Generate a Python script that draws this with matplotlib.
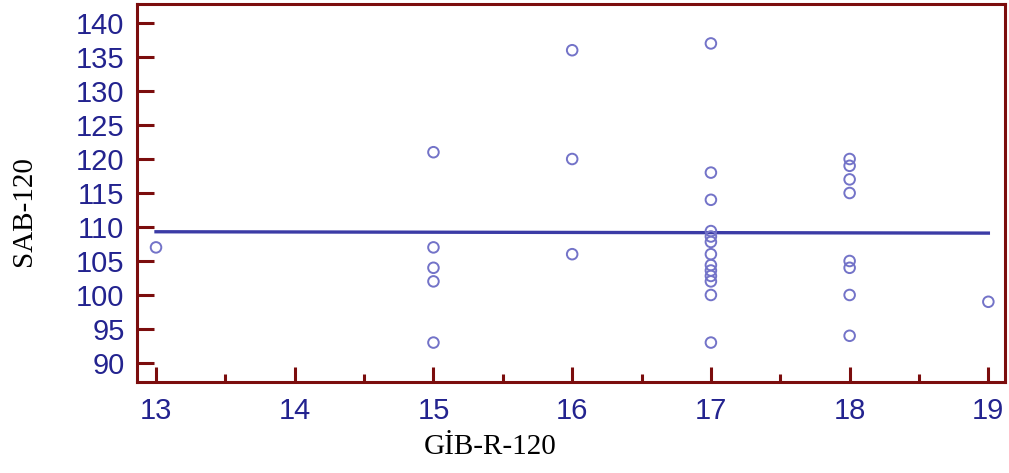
import matplotlib
matplotlib.use('Agg')
import matplotlib.pyplot as plt
from matplotlib.ticker import MultipleLocator

# GİB-R-120 scores and the matching SAB-120 readings
gib = [13,
       15, 15, 15, 15, 15,
       16, 16, 16,
       17, 17, 17, 17, 17, 17, 17, 17, 17, 17, 17, 17, 17,
       18, 18, 18, 18, 18, 18, 18, 18,
       19]
sab = [107,
       121, 107, 104, 102, 93,
       136, 120, 106,
       137, 118, 114, 109.4, 108.6, 107.8, 106, 104.4, 103.6, 102.8, 102, 100, 93,
       120, 119, 117, 115, 105, 104, 100, 94,
       99]

# regression line end points
fit_x = [13, 19]
fit_y = [109.3, 109.1]

frame = '#7b0d0d'
tick_blue = '#23238f'

fig = plt.figure(figsize=(10.09, 4.73), dpi=100)
ax = fig.add_axes([137 / 1009, 1 - 382 / 473, 868 / 1009, 378 / 473])

ax.scatter(gib, sab, s=58, facecolors='none', edgecolors='#7373c8',
           linewidths=1.4, zorder=3)
ax.plot(fit_x, fit_y, color='#3b3ba6', linewidth=2.4, zorder=2)

ax.set_xlim(12.863, 19.12)
ax.set_ylim(87.2, 142.8)
ax.xaxis.set_major_locator(MultipleLocator(1))
ax.xaxis.set_minor_locator(MultipleLocator(0.5))
ax.yaxis.set_major_locator(MultipleLocator(5))

for s in ax.spines.values():
    s.set_color(frame)
    s.set_linewidth(2.2)

ax.tick_params(axis='x', which='major', direction='in', length=11, width=2.2,
               color=frame, labelcolor=tick_blue, labelsize=21, pad=11)
ax.tick_params(axis='x', which='minor', direction='in', length=6, width=2.2,
               color=frame)
ax.tick_params(axis='y', which='major', direction='in', length=12, width=2.2,
               color=frame, labelcolor=tick_blue, labelsize=21, pad=9)
for lab in ax.get_xticklabels() + ax.get_yticklabels():
    lab.set_family('Liberation Sans')

fig.text(490 / 1009, 1 - 447 / 473, 'GİB-R-120', family='Liberation Serif',
         fontsize=21, ha='center', va='center')
fig.text(24 / 1009, 1 - 211 / 473, 'SAB-120', family='Liberation Serif',
         fontsize=21, ha='center', va='center', rotation=90)

fig.savefig('out.png', dpi=100)
